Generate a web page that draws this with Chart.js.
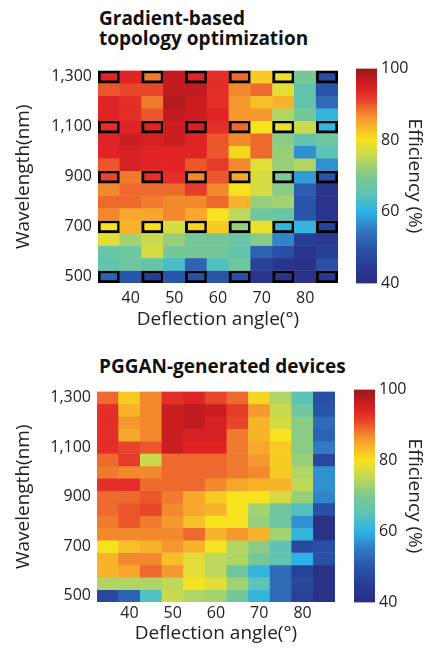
<!DOCTYPE html>
<html>
<head>
<meta charset="utf-8">
<script src="https://cdn.jsdelivr.net/npm/chart.js@4.4.1/dist/chart.umd.min.js"></script>
<style>
  body { margin: 0; background: #fff; width: 437px; height: 655px; overflow: hidden; position: relative; font-family: 'Open Sans', sans-serif; }
  .title { position: absolute; left: 99px; font-weight: 700; font-size: 19px; line-height: 19.5px; color: #111; white-space: nowrap; }
  canvas { position: absolute; }
</style>
</head>
<body>
<div class="title" style="top:9px">Gradient-based<br>topology optimization</div>
<div class="title" style="top:357px">PGGAN-generated devices</div>

<canvas id="heat1" width="345" height="283" style="left:0;top:55px"></canvas>
<canvas id="bar1" width="92" height="242" style="left:345px;top:55px"></canvas>
<canvas id="heat2" width="342" height="276" style="left:0;top:376px"></canvas>
<canvas id="bar2" width="94" height="240" style="left:343px;top:376px"></canvas>

<script>
// Axes
const angles = [35, 40, 45, 50, 55, 60, 65, 70, 75, 80, 85];
const wavelengths = [1300, 1250, 1200, 1150, 1100, 1050, 1000, 950, 900, 850, 800, 750, 700, 650, 600, 550, 500];
const yTicks = [500, 700, 900, 1100, 1300];
const cbTicks = [40, 60, 80, 100];

// Highlighted (boxed) devices in the gradient-based map
const boxedWavelengths = [1300, 1100, 900, 700, 500];
const boxedAngles = [35, 45, 55, 65, 75, 85];

// Efficiency (%) - one row per wavelength, top (1300 nm) to bottom (500 nm)
const gradientEff = [
  [94, 94, 88, 97, 94, 93, 89, 82, 79, 69, 48],
  [90, 91, 91, 97, 97, 93, 87, 89, 78, 66, 50],
  [94, 93, 88, 98, 96, 93, 86, 83, 84, 66, 53],
  [94, 93, 90, 97, 96, 94, 86, 86, 74, 69, 61],
  [93, 94, 94, 96, 95, 93, 89, 80, 79, 76, 61],
  [94, 96, 95, 96, 94, 90, 87, 89, 71, 66, 68],
  [94, 95, 94, 94, 94, 90, 81, 89, 72, 57, 65],
  [90, 95, 94, 94, 90, 92, 87, 78, 72, 74, 57],
  [91, 88, 93, 93, 87, 90, 85, 77, 70, 58, 50],
  [87, 89, 89, 89, 92, 87, 80, 77, 71, 51, 43],
  [89, 89, 88, 87, 87, 89, 84, 72, 73, 50, 43],
  [87, 85, 85, 87, 85, 80, 75, 68, 67, 50, 43],
  [80, 84, 80, 77, 81, 82, 72, 79, 61, 61, 46],
  [78, 73, 76, 72, 69, 69, 67, 71, 56, 45, 44],
  [67, 68, 77, 69, 69, 69, 66, 52, 49, 43, 45],
  [66, 68, 66, 63, 52, 64, 68, 46, 43, 42, 49],
  [52, 50, 45, 50, 49, 50, 49, 43, 43, 42, 44]
];

const pgganEff = [
  [89, 82, 87, 93, 94, 91, 89, 81, 74, 65, 49],
  [93, 84, 87, 96, 97, 96, 92, 86, 76, 68, 50],
  [93, 86, 87, 96, 97, 95, 91, 84, 77, 71, 53],
  [93, 85, 87, 96, 95, 95, 88, 84, 80, 71, 52],
  [93, 91, 90, 96, 94, 94, 88, 85, 82, 71, 55],
  [89, 92, 76, 89, 89, 89, 88, 86, 82, 72, 47],
  [88, 87, 87, 89, 89, 89, 88, 87, 82, 74, 57],
  [93, 93, 89, 89, 89, 87, 85, 84, 84, 75, 57],
  [89, 89, 90, 88, 85, 82, 80, 80, 77, 72, 56],
  [89, 90, 91, 87, 85, 84, 80, 73, 68, 64, 49],
  [88, 90, 88, 86, 83, 80, 80, 72, 68, 57, 42],
  [87, 87, 87, 87, 89, 84, 86, 84, 73, 61, 42],
  [80, 83, 84, 86, 84, 80, 74, 71, 65, 47, 49],
  [84, 87, 87, 83, 78, 75, 74, 69, 66, 60, 49],
  [84, 85, 89, 86, 78, 75, 68, 61, 53, 46, 42],
  [74, 74, 74, 75, 80, 78, 73, 65, 53, 47, 42],
  [47, 52, 64, 76, 74, 73, 69, 61, 53, 46, 42]
];

// colour map
const cmap = [
  [40, '#2b2a7f'], [45, '#283d96'], [50, '#2955a8'], [55, '#3479c3'],
  [60, '#2cb2e6'], [65, '#5cc3b6'], [70, '#7dc890'], [75, '#bdd85a'],
  [80, '#f7e21f'], [85, '#f7a72c'], [88, '#f07a2e'], [91, '#e8462a'],
  [94, '#e02426'], [97, '#c11b1f'], [100, '#961818']
];

function hexToRgb(h) {
  return [parseInt(h.slice(1, 3), 16), parseInt(h.slice(3, 5), 16), parseInt(h.slice(5, 7), 16)];
}

function colorFor(v) {
  if (v <= cmap[0][0]) return cmap[0][1];
  for (let i = 1; i < cmap.length; i++) {
    if (v <= cmap[i][0]) {
      const t = (v - cmap[i - 1][0]) / (cmap[i][0] - cmap[i - 1][0]);
      const a = hexToRgb(cmap[i - 1][1]), b = hexToRgb(cmap[i][1]);
      const c = a.map((x, k) => Math.round(x + (b[k] - x) * t));
      return `rgb(${c[0]},${c[1]},${c[2]})`;
    }
  }
  return cmap[cmap.length - 1][1];
}

Chart.defaults.font.family = "'Open Sans', sans-serif";
Chart.defaults.color = '#222';
Chart.defaults.animation = false;

function makeHeatmap(id, rows, opt) {
  const datasets = wavelengths.map((w, r) => ({
    data: angles.map(() => [w - 25, w + 25]),
    backgroundColor: rows[r].map(v => colorFor(v)),
    borderColor: '#000',
    borderWidth: angles.map(a => (opt.boxed && boxedWavelengths.includes(w) && boxedAngles.includes(a)) ? 3 : 0),
    borderSkipped: false,
    grouped: false,
    barPercentage: 1,
    categoryPercentage: 1
  }));

  new Chart(document.getElementById(id), {
    type: 'bar',
    data: { labels: angles.map(String), datasets },
    options: {
      responsive: false,
      layout: { padding: { top: 12, right: 7, left: 0, bottom: 0 } },
      plugins: { legend: { display: false }, tooltip: { enabled: false } },
      scales: {
        x: {
          grid: { display: false, drawTicks: false },
          border: { display: false },
          ticks: {
            padding: opt.xTickPad,
            maxRotation: 0,
            autoSkip: false,
            font: { size: 16 },
            callback: function (value, index) { return index % 2 === 1 ? this.getLabelForValue(value) : ''; }
          },
          title: { display: true, text: 'Deflection angle(°)', font: { size: 19 }, padding: { top: 0, bottom: 7 } },
          afterFit: s => { s.height = opt.xHeight; }
        },
        y: {
          min: 475,
          max: 1325,
          grid: { display: false, drawTicks: false },
          border: { display: false },
          afterBuildTicks: s => { s.ticks = yTicks.map(v => ({ value: v })); },
          ticks: {
            padding: 6,
            font: { size: 16 },
            callback: v => v.toLocaleString('en-US')
          },
          title: { display: true, text: 'Wavelength(nm)', font: { size: 19 }, padding: { top: 12, bottom: 0 } },
          afterFit: s => { s.width = opt.yWidth; }
        }
      }
    }
  });
}

function makeColorbar(id, pad) {
  new Chart(document.getElementById(id), {
    type: 'bar',
    data: {
      labels: [''],
      datasets: [{
        data: [[40, 100]],
        backgroundColor: ctx => {
          const area = ctx.chart.chartArea;
          if (!area) return cmap[0][1];
          const g = ctx.chart.ctx.createLinearGradient(0, area.bottom, 0, area.top);
          cmap.forEach(([v, c]) => g.addColorStop((v - 40) / 60, c));
          return g;
        },
        borderWidth: 0,
        barPercentage: 1,
        categoryPercentage: 1
      }]
    },
    options: {
      responsive: false,
      layout: { padding: pad },
      plugins: { legend: { display: false }, tooltip: { enabled: false } },
      scales: {
        x: { display: false },
        y: {
          position: 'right',
          min: 40,
          max: 100,
          grid: { display: false, drawTicks: false },
          border: { display: false },
          afterBuildTicks: s => { s.ticks = cbTicks.map(v => ({ value: v })); },
          ticks: { padding: 4, font: { size: 16 } },
          title: { display: true, text: 'Efficiency (%)', font: { size: 19 }, padding: { top: 11, bottom: 0 } },
          afterFit: s => { s.width = pad.yWidth; }
        }
      }
    }
  });
}

makeHeatmap('heat1', gradientEff, { boxed: true, xTickPad: 6, xHeight: 55, yWidth: 98 });
makeHeatmap('heat2', pgganEff, { boxed: false, xTickPad: 2, xHeight: 50, yWidth: 97 });
makeColorbar('bar1', { top: 12, bottom: 13, left: 11, right: 0, yWidth: 60 });
makeColorbar('bar2', { top: 11, bottom: 13, left: 11, right: 0, yWidth: 62 });
</script>
</body>
</html>
